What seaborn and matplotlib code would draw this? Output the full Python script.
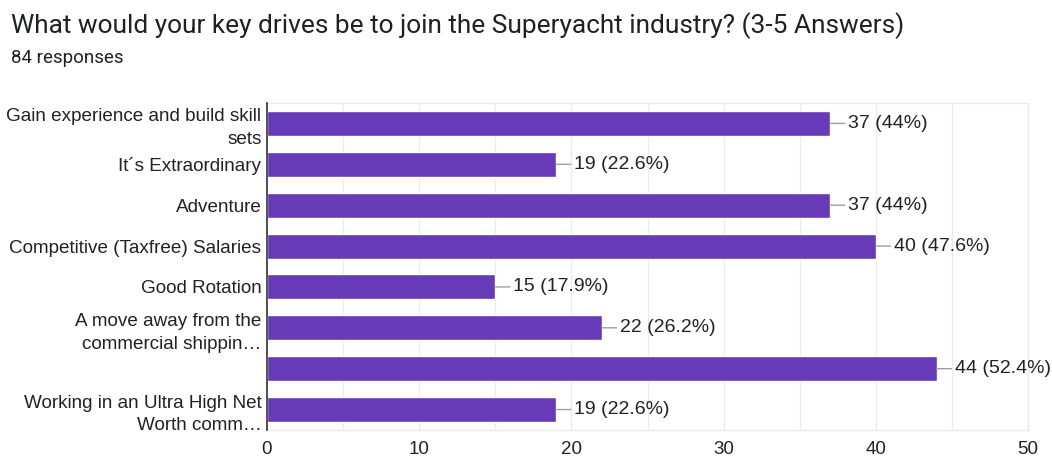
import matplotlib
matplotlib.use("Agg")
import matplotlib.pyplot as plt
import seaborn as sns
import pandas as pd
from matplotlib.ticker import MultipleLocator

categories = [
    "Gain experience and build skill\nsets",
    "It´s Extraordinary",
    "Adventure",
    "Competitive (Taxfree) Salaries",
    "Good Rotation",
    "A move away from the\ncommercial shippin…",
    "",
    "Working in an Ultra High Net\nWorth comm…",
]
counts = [37, 19, 37, 40, 15, 22, 44, 19]
total_responses = 84
x_ticks = [0, 10, 20, 30, 40, 50]

title = "What would your key drives be to join the Superyacht industry? (3-5 Answers)"
subtitle = f"{total_responses} responses"

sns.set_theme(style="white")
plt.rcParams["font.family"] = ["Liberation Sans", "DejaVu Sans"]

df = pd.DataFrame({"cat": categories, "count": counts})

fig = plt.figure(figsize=(10.52, 4.59), dpi=100)
ax = fig.add_axes([0.2538, 0.0632, 0.7234, 0.7124])

sns.barplot(data=df, y="cat", x="count", order=categories, color="#673ab7",
            saturation=1, width=0.61, ax=ax, zorder=3)

ax.set_xlim(0, 50)
ax.set_xticks(x_ticks)
ax.xaxis.set_minor_locator(MultipleLocator(5))
ax.grid(axis="x", which="both", color="#ebebeb", linewidth=1, zorder=0)
ax.set_axisbelow(True)
ax.set_xlabel("")
ax.set_ylabel("")
ax.tick_params(axis="both", length=0, labelsize=13.5, colors="#222222")
ax.tick_params(axis="x", pad=8)
ax.tick_params(axis="y", pad=4)
ax.set_yticklabels(categories, fontsize=13.6, color="#222222")
for t in ax.get_yticklabels():
    t.set_linespacing(1.45)

for s in ["top", "right", "bottom"]:
    ax.spines[s].set_color("#ebebeb")
    ax.spines[s].set_linewidth(1)
ax.spines["left"].set_color("#333333")
ax.spines["left"].set_linewidth(1.2)
ax.spines["left"].set_zorder(5)

for i, v in enumerate(counts):
    pct = round(v / total_responses * 100, 1)
    pct_s = f"{pct:g}"
    ax.annotate(f"{v} ({pct_s}%)", xy=(v, i), xytext=(13, 0), textcoords="offset points",
                ha="left", va="center", fontsize=14, color="#222222",
                arrowprops=dict(arrowstyle="-", color="#9e9e9e", lw=1,
                                shrinkA=0, shrinkB=0), zorder=4)

fig.text(0.0105, 0.945, title, fontsize=18.9, family=["Roboto", "DejaVu Sans"],
         color="#202124", ha="left", va="center")
fig.text(0.0105, 0.874, subtitle, fontsize=13.5, family=["Roboto", "DejaVu Sans"],
         color="#202124", ha="left", va="center")

fig.savefig("out.png", dpi=100)
